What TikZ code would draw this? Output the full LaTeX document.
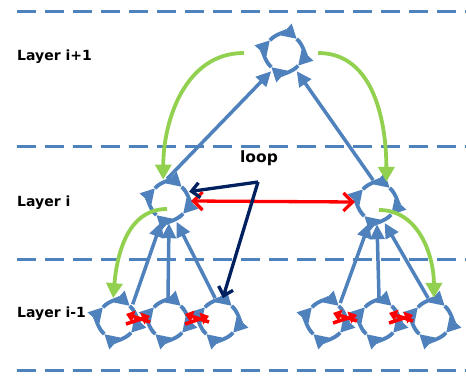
\documentclass[tikz,border=0pt]{standalone}
\usepackage{fontspec}
\setmainfont{DejaVu Sans}
\usetikzlibrary{arrows.meta}
\definecolor{lblue}{RGB}{79,129,189}
\definecolor{lgreen}{RGB}{146,208,80}
\definecolor{navyb}{RGB}{0,32,96}
\tikzset{
  dashline/.style={lblue, line width=3pt, dash pattern=on 19pt off 9pt},
  cycarc/.style={lblue, line width=3.8pt, -{Triangle[length=14pt,width=15pt]}},
  cyc/.pic={\foreach \a in {0,90,180,270}{\draw[cycarc] (\a+138:19pt) arc[start angle=\a+138, end angle=\a+48, radius=19pt];}},
  swaparr/.style={red, line width=3.5pt, -{Triangle[length=8pt,width=12pt]}},
  swap/.pic={\draw[swaparr] (-12pt,-5pt) -- (12pt,3pt); \draw[swaparr] (12pt,-3pt) -- (-12pt,5pt);},
  cluster/.style={circle, minimum size=44pt, inner sep=0pt},
  blink/.style={lblue, line width=3.5pt, -{Triangle[length=15pt,width=14pt]}},
  glink/.style={lgreen, line width=3.8pt, -{Triangle[length=15pt,width=16pt]}},
  nlink/.style={navyb, line width=3.3pt, -{Straight Barb[length=8pt,width=15pt]}},
  rlink/.style={red, line width=3.3pt, {Straight Barb[length=9pt,width=18pt]}-{Straight Barb[length=9pt,width=18pt]}},
  lab/.style={font=\bfseries\fontsize{14}{16}\selectfont, anchor=west, inner sep=0pt},
}
\begin{document}
\begin{tikzpicture}[x=1pt,y=-1pt]
\useasboundingbox (0,0) rectangle (466,375);
\foreach \yy in {11,146,259,370} \draw[dashline] (17,\yy) -- (466,\yy);
\node[lab] (l1) at (17,57) {Layer i+1};
\node[lab] (l2) at (17,203) {Layer i};
\node[lab] (l3) at (17,314) {Layer i-1};
\node[font=\bfseries\fontsize{15.5}{17}\selectfont, inner sep=0pt] (loop) at (259,158) {loop};
% clusters
\node[cluster] (T) at (284,53) {};
\node[cluster] (L) at (169,201) {};
\node[cluster] (R) at (377,202) {};
\node[cluster] (B1) at (117,320) {};
\node[cluster] (B2) at (168,320) {};
\node[cluster] (B3) at (219,320) {};
\node[cluster] (B4) at (326,320) {};
\node[cluster] (B5) at (379,320) {};
\node[cluster] (B6) at (432,320) {};
\foreach \n in {T,L,R,B1,B2,B3,B4,B5,B6} \pic at (\n) {cyc};
\pic at (138,319) {swap};
\pic at (197,319) {swap};
\pic at (345,318) {swap};
\pic at (401,318) {swap};
% blue links
\draw[blink] (L.95) -- (T.235);
\draw[blink] (R.100) -- (T.-55);
\draw[blink] (B1.45) -- (L.250);
\draw[blink] (B2.90) -- (L.270);
\draw[blink] (B3.100) -- (L.290);
\draw[blink] (B4.50) -- (R.250);
\draw[blink] (B5.90) -- (R.270);
\draw[blink] (B6.100) -- (R.290);
% green links
\draw[glink] ([xshift=-18pt]T.west) to[out=180,in=90] (L.105);
\draw[glink] ([xshift=12pt]T.east) to[out=0,in=90] (R.65);
\draw[glink] ([shift={(-2,8)}]L.center) to[out=180,in=85] (B1.100);
\draw[glink] ([shift={(2,8)}]R.center) to[out=0,in=90] (B6.85);
% red and navy
\draw[rlink] (L.east) -- (R.west);
\coordinate (lp) at (258,182);
\draw[nlink] (lp) -- (L.25);
\draw[nlink] (lp) -- (B3.80);
\end{tikzpicture}
\end{document}
